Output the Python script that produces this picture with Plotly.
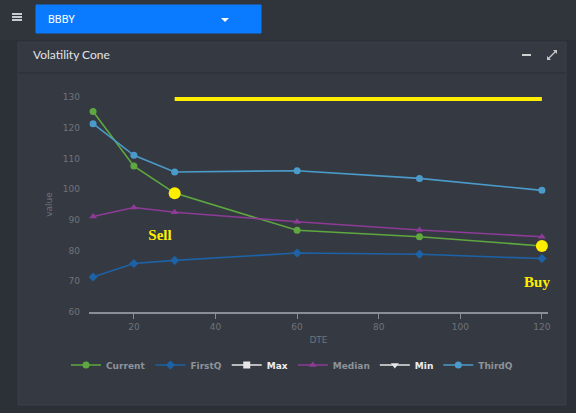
import plotly.graph_objects as go

# ---- data ----
dte = [10, 20, 30, 60, 90, 120]
current = [125.3, 107.5, 98.7, 86.6, 84.5, 81.5]
first_q = [71.4, 75.8, 76.8, 79.2, 78.8, 77.4]
median = [91.1, 94.0, 92.5, 89.4, 86.7, 84.5]
third_q = [121.3, 111.0, 105.6, 106.0, 103.5, 99.6]
max_vals = []
min_vals = []

line_x = [30, 120]
line_y = [129.5, 129.5]
signal_x = [30, 120]
signal_y = [98.7, 81.5]
signal_labels = ["Sell", "Buy"]
label_x = [26.4, 118.8]
label_y = [84.6, 69.3]

x_ticks = [20, 40, 60, 80, 100, 120]
y_ticks = [60, 70, 80, 90, 100, 110, 120, 130]

# ---- layout geometry (pixels) ----
W, H = 576, 413
L, R, T, B = 89, 28, 97, 101
PW, PH = W - L - R, H - T - B


def px(x):
    return (x - L) / PW


def py(y):
    return (H - B - y) / PH


PAGE_BG = "#2c3037"
TOPBAR_BG = "#30343b"
PANEL_BG = "#353a42"
GREY = "#6e737a"
LEG = "#8e939a"

fig = go.Figure()

series = [
    ("Current", current, "#5ea83f", "circle", LEG),
    ("FirstQ", first_q, "#1d62a6", "diamond", LEG),
    ("Max", max_vals, "#e6e6e6", "square", "#eceef0"),
    ("Median", median, "#8d3b97", "triangle-up", LEG),
    ("Min", min_vals, "#e6e6e6", "triangle-down", "#eceef0"),
    ("ThirdQ", third_q, "#4b9bca", "circle", LEG),
]
for name, vals, col, sym, tcol in series:
    xs = dte[: len(vals)] if vals else [None]
    ys = vals if vals else [None]
    fig.add_trace(go.Scatter(
        x=xs, y=ys, name='<span style="color:%s"><b>%s</b></span>' % (tcol, name),
        mode="lines+markers",
        line=dict(color=col, width=1.6),
        marker=dict(color=col, symbol=sym, size=7),
        showlegend=True,
    ))

fig.add_trace(go.Scatter(
    x=line_x, y=line_y, mode="lines", showlegend=False,
    line=dict(color="#ffee00", width=5), hoverinfo="skip",
))
fig.add_trace(go.Scatter(
    x=signal_x, y=signal_y, mode="markers", showlegend=False,
    marker=dict(color="#ffee00", size=12, symbol="circle"), hoverinfo="skip",
))
fig.add_trace(go.Scatter(
    x=label_x, y=label_y, mode="text", showlegend=False, cliponaxis=False,
    text=["<b>%s</b>" % t for t in signal_labels],
    textfont=dict(family="Liberation Serif", size=15, color="#ffee00"),
    hoverinfo="skip",
))

shapes = [
    # top bar
    dict(type="rect", xref="paper", yref="paper", x0=px(0), x1=px(W), y0=py(40), y1=py(0),
         fillcolor=TOPBAR_BG, line=dict(width=0), layer="below"),
    # panel
    dict(type="rect", xref="paper", yref="paper", x0=px(18), x1=px(566), y0=py(405), y1=py(42),
         fillcolor=PANEL_BG, line=dict(color="#3b4048", width=1), layer="below"),
    # header divider
    dict(type="line", xref="paper", yref="paper", x0=px(18), x1=px(566), y0=py(73), y1=py(73),
         line=dict(color="#2a2e34", width=1), layer="below"),
    # blue button
    dict(type="rect", xref="paper", yref="paper", x0=px(36), x1=px(261), y0=py(33), y1=py(5),
         fillcolor="#0a7bff", line=dict(color="#0a7bff", width=1), layer="below"),
    # caret
    dict(type="path", xref="paper", yref="paper",
         path="M %f %f L %f %f L %f %f Z" % (px(221), py(18), px(229), py(18), px(225), py(22)),
         fillcolor="white", line=dict(width=0), layer="below"),
]
# hamburger
for yy in (14, 17, 20):
    shapes.append(dict(type="line", xref="paper", yref="paper", x0=px(12), x1=px(22),
                       y0=py(yy), y1=py(yy), line=dict(color="#c8ccd2", width=2), layer="below"))
# minimize icon
shapes.append(dict(type="line", xref="paper", yref="paper", x0=px(522), x1=px(531),
                   y0=py(55), y1=py(55), line=dict(color="#d0d0d0", width=2), layer="below"))
# expand icon (diagonal with two arrowheads)
shapes.append(dict(type="line", xref="paper", yref="paper", x0=px(548), x1=px(556),
                   y0=py(59), y1=py(51), line=dict(color="#c8c8c8", width=1.2), layer="below"))
shapes.append(dict(type="path", xref="paper", yref="paper",
                   path="M %f %f L %f %f L %f %f Z" % (px(547), py(60), px(547), py(56), px(551), py(60)),
                   fillcolor="#c8c8c8", line=dict(width=0), layer="below"))
shapes.append(dict(type="path", xref="paper", yref="paper",
                   path="M %f %f L %f %f L %f %f Z" % (px(557), py(50), px(557), py(54), px(553), py(50)),
                   fillcolor="#c8c8c8", line=dict(width=0), layer="below"))

annotations = [
    dict(text="BBBY", xref="paper", yref="paper", x=px(46), y=py(19), xanchor="left",
         yanchor="middle", showarrow=False, font=dict(family="Roboto", size=11, color="white")),
    dict(text="Volatility Cone", xref="paper", yref="paper", x=px(31), y=py(54), xanchor="left",
         yanchor="middle", showarrow=False, font=dict(family="Lato", size=12, color="#e2e4e8")),
]

fig.update_layout(
    width=W, height=H,
    margin=dict(l=L, r=R, t=T, b=B),
    paper_bgcolor=PAGE_BG,
    plot_bgcolor=PANEL_BG,
    shapes=shapes,
    annotations=annotations,
    font=dict(family="DejaVu Sans", size=9, color=GREY),
    showlegend=True,
    legend=dict(orientation="h", x=px(292), xanchor="center", y=py(365), yanchor="middle",
                font=dict(size=9, color=LEG), bgcolor="rgba(0,0,0,0)",
                itemwidth=30, tracegroupgap=0),
    xaxis=dict(range=[9, 121.5], tickvals=x_ticks, showgrid=False, zeroline=False,
               showline=True, linecolor="#8a8f96", linewidth=1.5,
               ticks="outside", ticklen=5, tickcolor="#8a8f96",
               tickfont=dict(size=9, color=GREY),
               title=dict(text="DTE", font=dict(size=9, color=GREY), standoff=6)),
    yaxis=dict(range=[60, 130], tickvals=y_ticks, showgrid=False, zeroline=False,
               showline=False, ticks="", ticklabelstandoff=8,
               tickfont=dict(size=9, color=GREY),
               title=dict(text="value", font=dict(size=9, color=GREY), standoff=8)),
)

fig.write_html(
    "out.html",
    config={"displayModeBar": False},
    post_script="document.body.style.margin='0';document.body.style.background='%s';" % PAGE_BG,
)
